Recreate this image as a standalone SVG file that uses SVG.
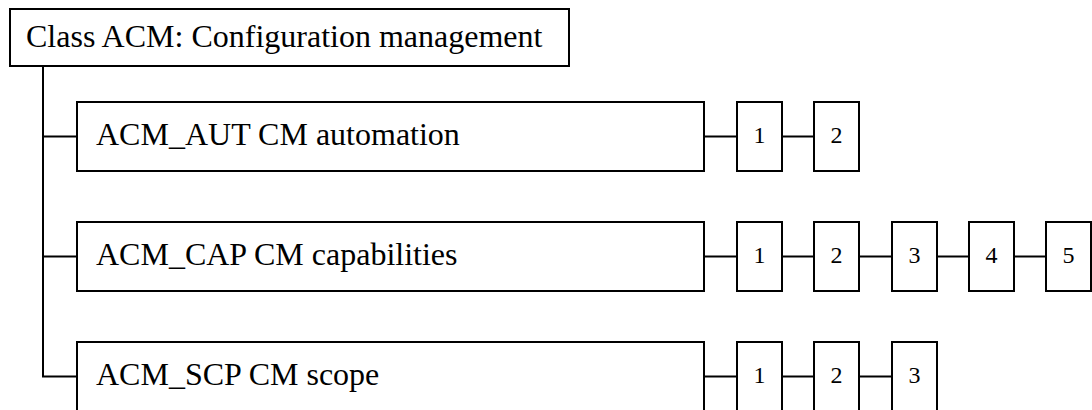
<svg xmlns="http://www.w3.org/2000/svg" width="1092" height="410" viewBox="0 0 1092 410">
<style>
  rect { fill: #ffffff; stroke: #000000; stroke-width: 2; }
  line { stroke: #000000; stroke-width: 2; }
  .big { font-family: "Liberation Serif", "Times New Roman", serif; font-size: 32px; fill: #000000; }
  .num { font-family: "Liberation Serif", "Times New Roman", serif; font-size: 24px; fill: #000000; text-anchor: middle; }
</style>
<rect x="0" y="0" width="1092" height="410" style="stroke:none;fill:#ffffff"/>
<g id="connectors">
  <line x1="43" y1="66" x2="43" y2="376.5"/>
  <line x1="42" y1="136.5" x2="77" y2="136.5"/>
  <line x1="42" y1="256.5" x2="77" y2="256.5"/>
  <line x1="42" y1="376.5" x2="77" y2="376.5"/>
  <line x1="704" y1="136.5" x2="737" y2="136.5"/>
  <line x1="782" y1="136.5" x2="814" y2="136.5"/>
  <line x1="704" y1="256.5" x2="737" y2="256.5"/>
  <line x1="782" y1="256.5" x2="814" y2="256.5"/>
  <line x1="859" y1="256.5" x2="892" y2="256.5"/>
  <line x1="937" y1="256.5" x2="969" y2="256.5"/>
  <line x1="1014" y1="256.5" x2="1046" y2="256.5"/>
  <line x1="704" y1="376.5" x2="737" y2="376.5"/>
  <line x1="782" y1="376.5" x2="814" y2="376.5"/>
  <line x1="859" y1="376.5" x2="892" y2="376.5"/>
</g>
<g id="class-acm">
  <rect x="10" y="9" width="559" height="57"/>
  <text class="big" x="26" y="47">Class ACM: Configuration management</text>
</g>
<g id="acm-aut">
  <rect x="77" y="102" width="627" height="69"/>
  <text class="big" x="96" y="145">ACM_AUT CM automation</text>
</g>
<g id="acm-aut-1"><rect x="737" y="102" width="45" height="69"/><text class="num" x="759.5" y="143">1</text></g>
<g id="acm-aut-2"><rect x="814" y="102" width="45" height="69"/><text class="num" x="836.5" y="143">2</text></g>
<g id="acm-cap">
  <rect x="77" y="222" width="627" height="69"/>
  <text class="big" x="96" y="265">ACM_CAP CM capabilities</text>
</g>
<g id="acm-cap-1"><rect x="737" y="222" width="45" height="69"/><text class="num" x="759.5" y="263">1</text></g>
<g id="acm-cap-2"><rect x="814" y="222" width="45" height="69"/><text class="num" x="836.5" y="263">2</text></g>
<g id="acm-cap-3"><rect x="892" y="222" width="45" height="69"/><text class="num" x="914.5" y="263">3</text></g>
<g id="acm-cap-4"><rect x="969" y="222" width="45" height="69"/><text class="num" x="991.5" y="263">4</text></g>
<g id="acm-cap-5"><rect x="1046" y="222" width="45" height="69"/><text class="num" x="1068.5" y="263">5</text></g>
<g id="acm-scp">
  <rect x="77" y="342" width="627" height="69"/>
  <text class="big" x="96" y="385">ACM_SCP CM scope</text>
</g>
<g id="acm-scp-1"><rect x="737" y="342" width="45" height="69"/><text class="num" x="759.5" y="383">1</text></g>
<g id="acm-scp-2"><rect x="814" y="342" width="45" height="69"/><text class="num" x="836.5" y="383">2</text></g>
<g id="acm-scp-3"><rect x="892" y="342" width="45" height="69"/><text class="num" x="914.5" y="383">3</text></g>
</svg>
